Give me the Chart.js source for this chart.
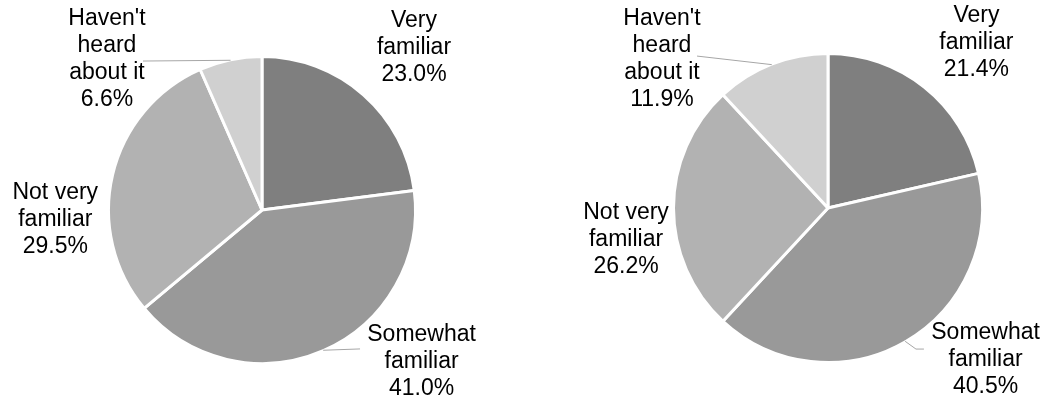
<!DOCTYPE html>
<html>
<head>
<meta charset="utf-8">
<script src="https://cdn.jsdelivr.net/npm/chart.js@4/dist/chart.umd.min.js"></script>
<style>
  html, body { margin: 0; padding: 0; background: #ffffff; }
  #wrap { width: 1048px; height: 402px; display: flex; }
  .cell { position: relative; width: 524px; height: 402px; }
</style>
</head>
<body>
<div id="wrap">
  <div class="cell"><canvas id="c1"></canvas></div>
  <div class="cell"><canvas id="c2"></canvas></div>
</div>
<script>
// ---- data ----
const categories = [["Very", "familiar"], ["Somewhat", "familiar"], ["Not very", "familiar"], ["Haven't", "heard", "about it"]];
const leftValues = [23.0, 41.0, 29.5, 6.6];
const rightValues = [21.4, 40.5, 26.2, 11.9];
const sliceColors = ["#7f7f7f", "#999999", "#b2b2b2", "#d0d0d0"];

// label placement relative to pie centre, in units of the pie radius
const leftLayout = [
  { dx: 1.00, dy: -1.07 },
  { dx: 1.05, dy: 1.00, leader: { end: [0.645, 0.914] } },
  { dx: -1.36, dy: 0.066 },
  { dx: -1.02, dy: -0.99, leader: { end: [-0.783, -0.98] } }
];
const rightLayout = [
  { dx: 0.97, dy: -1.08 },
  { dx: 1.03, dy: 0.99, leader: { elbow: [0.575, 0.922], end: [0.627, 0.922] } },
  { dx: -1.32, dy: 0.21 },
  { dx: -1.085, dy: -0.975, leader: { end: [-0.856, -0.993] } }
];

const FONT = '23px "Liberation Sans", Arial, sans-serif';
const LINE_H = 27;

const labelPlugin = {
  id: 'pieLabels',
  afterDatasetsDraw(chart, args, opts) {
    const ctx = chart.ctx;
    const meta = chart.getDatasetMeta(0);
    const ds = chart.data.datasets[0];
    const layout = opts.layout;
    ctx.save();
    meta.data.forEach((arc, i) => {
      const cx = arc.x, cy = arc.y;
      const r = arc.outerRadius - 1.5;
      const L = layout[i];
      // leader line
      if (L.leader) {
        const mid = (arc.startAngle + arc.endAngle) / 2;
        const sx = cx + Math.cos(mid) * (r + 1);
        const sy = cy + Math.sin(mid) * (r + 1);
        ctx.beginPath();
        ctx.strokeStyle = '#a6a6a6';
        ctx.lineWidth = 1;
        ctx.moveTo(sx, sy);
        if (L.leader.elbow) ctx.lineTo(cx + L.leader.elbow[0] * r, cy + L.leader.elbow[1] * r);
        ctx.lineTo(cx + L.leader.end[0] * r, cy + L.leader.end[1] * r);
        ctx.stroke();
      }
      const lbl = chart.data.labels[i];
      const lines = (Array.isArray(lbl) ? lbl.slice() : [lbl]);
      lines.push(ds.data[i].toFixed(1) + '%');
      const x = cx + L.dx * r;
      const y = cy + L.dy * r;
      ctx.font = FONT;
      ctx.fillStyle = '#000000';
      ctx.textAlign = 'center';
      ctx.textBaseline = 'middle';
      const top = y - (lines.length - 1) * LINE_H / 2;
      lines.forEach((t, k) => ctx.fillText(t, x, top + k * LINE_H));
    });
    ctx.restore();
  }
};

function makePie(id, values, layout, padding) {
  return new Chart(document.getElementById(id), {
    type: 'pie',
    data: {
      labels: categories,
      datasets: [{
        data: values,
        backgroundColor: sliceColors,
        borderColor: '#ffffff',
        borderWidth: 3,
        hoverOffset: 0
      }]
    },
    options: {
      responsive: true,
      maintainAspectRatio: false,
      animation: false,
      layout: { padding: padding },
      plugins: {
        legend: { display: false },
        tooltip: { enabled: false },
        pieLabels: { layout: layout }
      }
    },
    plugins: [labelPlugin]
  });
}

makePie('c1', leftValues, leftLayout, { top: 55, bottom: 37, left: 107, right: 107 });
makePie('c2', rightValues, rightLayout, { top: 52, bottom: 38, left: 148, right: 64 });
</script>
</body>
</html>
